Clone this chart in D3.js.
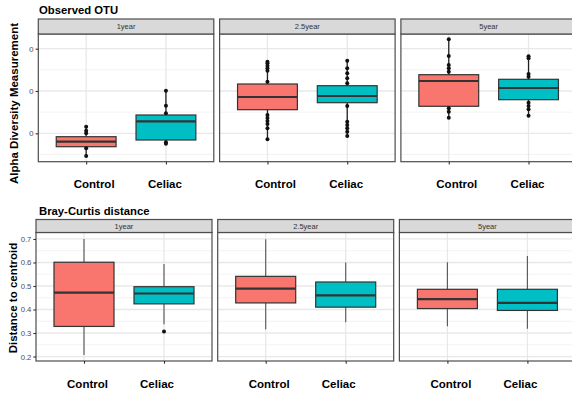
<!DOCTYPE html>
<html>
<head>
<meta charset="utf-8">
<script src="https://cdn.jsdelivr.net/npm/d3@7"></script>
<style>
  html, body { margin: 0; padding: 0; background: #ffffff; }
  svg { display: block; }
  text { font-family: "Liberation Sans", Arial, sans-serif; }
</style>
</head>
<body>
<script>
// ---------------- DATA ----------------
const categories = ["Control", "Celiac"];
const periods = ["1year", "2.5year", "5year"];
const groupColors = ["#F8766D", "#00BFC4"];

// Observed OTU: [lower whisker, q1, median, q3, upper whisker] per period, per category
const otuStats = [
  [[92.7, 136.6, 160.3, 183.9, 231.2], [151, 168.3, 256.7, 286.5, 401.4]],
  [[171.6, 311.6, 371.6, 433.1, 538.5], [187.2, 344.7, 376.4, 425, 543.3]],
  [[273.8, 327.7, 447.3, 477.1, 644.4], [283.2, 358.9, 414.2, 455.3, 564]]
];
// Observed OTU: individual points drawn on the whiskers
const otuPoints = [
  [[231.2, 212.2, 200, 129, 92.7], [401.4, 330.5, 294.6, 158, 151]],
  [[538.5, 531, 519.6, 507.3, 496, 444, 286.5, 272.3, 258.2, 244, 223.6, 171.6],
   [543.3, 507.3, 483.7, 460, 436.4, 329.1, 254.8, 239.2, 223.6, 207.6, 187.2]],
  [[644.4, 565.5, 522.9, 507.3, 491.3, 318.2, 302.1, 273.8],
   [564, 555, 480.4, 467.6, 344.7, 329.1, 313.5, 283.2]]
];
const otuTicks = [200, 400, 600];
const otuMinorTicks = [100, 300, 500];

// Bray-Curtis distance to centroid
const brayStats = [
  [[0.207, 0.328, 0.472, 0.601, 0.700], [0.337, 0.424, 0.468, 0.497, 0.594]],
  [[0.316, 0.428, 0.489, 0.541, 0.699], [0.346, 0.410, 0.460, 0.517, 0.600]],
  [[0.329, 0.404, 0.444, 0.486, 0.601], [0.318, 0.396, 0.428, 0.486, 0.628]]
];
const brayPoints = [
  [[], [0.306]],
  [[], []],
  [[], []]
];
const brayTicks = [0.2, 0.3, 0.4, 0.5, 0.6, 0.7];
const brayMinorTicks = [0.25, 0.35, 0.45, 0.55, 0.65];

// ---------------- DRAW ----------------
const W = 572, H = 397;
const svg = d3.select("body").append("svg").attr("width", W).attr("height", H);

svg.append("defs").append("clipPath").attr("id", "ylabClip")
  .attr("clipPathUnits", "userSpaceOnUse")
  .append("rect").attr("x", 29).attr("y", 0).attr("width", 20).attr("height", 200);

function drawRow(o) {
  const g = svg.append("g");
  const y = d3.scaleLinear().domain(o.domain).range([o.panelBottom, o.panelTop]);

  periods.forEach((p, i) => {
    const x0 = o.left + i * (o.width + o.gap);
    const x = d3.scalePoint().domain(categories).range([x0, x0 + o.width]).padding(0.6);
    const bw = x.step() * 0.75;
    const pg = g.append("g");

    pg.append("rect").attr("x", x0).attr("y", o.panelTop)
      .attr("width", o.width).attr("height", o.panelBottom - o.panelTop)
      .attr("fill", "#ffffff");

    pg.selectAll(".minor").data(o.minor).enter().append("line")
      .attr("x1", x0).attr("x2", x0 + o.width)
      .attr("y1", d => y(d)).attr("y2", d => y(d))
      .attr("stroke", "#f0f0f0").attr("stroke-width", 0.8);
    pg.selectAll(".major").data(o.ticks).enter().append("line")
      .attr("x1", x0).attr("x2", x0 + o.width)
      .attr("y1", d => y(d)).attr("y2", d => y(d))
      .attr("stroke", "#e8e8e8").attr("stroke-width", 1.3);
    pg.selectAll(".vmajor").data(categories).enter().append("line")
      .attr("x1", d => x(d)).attr("x2", d => x(d))
      .attr("y1", o.panelTop).attr("y2", o.panelBottom)
      .attr("stroke", "#e8e8e8").attr("stroke-width", 1.3);

    categories.forEach((c, j) => {
      const s = o.stats[i][j];
      const cx = x(c);
      pg.append("line").attr("x1", cx).attr("x2", cx)
        .attr("y1", y(s[4])).attr("y2", y(s[3]))
        .attr("stroke", o.whiskerColor).attr("stroke-width", o.whiskerWidth);
      pg.append("line").attr("x1", cx).attr("x2", cx)
        .attr("y1", y(s[1])).attr("y2", y(s[0]))
        .attr("stroke", o.whiskerColor).attr("stroke-width", o.whiskerWidth);
      pg.append("rect").attr("x", cx - bw / 2).attr("y", y(s[3]))
        .attr("width", bw).attr("height", y(s[1]) - y(s[3]))
        .attr("fill", groupColors[j]).attr("stroke", "#333333").attr("stroke-width", 1.2);
      pg.append("line").attr("x1", cx - bw / 2).attr("x2", cx + bw / 2)
        .attr("y1", y(s[2])).attr("y2", y(s[2]))
        .attr("stroke", "#333333").attr("stroke-width", 2.2);
      pg.selectAll(".pt" + j).data(o.points[i][j]).enter().append("circle")
        .attr("cx", cx).attr("cy", d => y(d)).attr("r", 2)
        .attr("fill", "#111111");
    });

    pg.append("rect").attr("x", x0).attr("y", o.panelTop)
      .attr("width", o.width).attr("height", o.panelBottom - o.panelTop)
      .attr("fill", "none").attr("stroke", "#4d4d4d").attr("stroke-width", 1.2);

    pg.append("rect").attr("x", x0).attr("y", o.stripTop)
      .attr("width", o.width).attr("height", o.panelTop - o.stripTop)
      .attr("fill", "#d9d9d9").attr("stroke", "#4d4d4d").attr("stroke-width", 1.2);
    pg.append("text").attr("x", x0 + o.width / 2).attr("y", (o.stripTop + o.panelTop) / 2)
      .attr("text-anchor", "middle").attr("dominant-baseline", "central")
      .attr("font-size", 7.5).attr("fill", "#333333").text(p);

    const xa = pg.append("g").attr("transform", `translate(0,${o.panelBottom})`)
      .call(d3.axisBottom(x).tickSize(2.7).tickFormat(""));
    xa.select(".domain").remove();
    xa.selectAll(".tick line").attr("stroke", "#333333").attr("stroke-width", 1.1);

    categories.forEach((c, j) => {
      pg.append("text").attr("x", x(c) + o.labelShift[j]).attr("y", o.labelBaseline)
        .attr("text-anchor", "middle").attr("font-size", 11.5).attr("font-weight", "bold")
        .attr("fill", "#000000").text(c);
    });

    if (i === 0) {
      const wrap = pg.append("g");
      if (o.clip) wrap.attr("clip-path", "url(#ylabClip)");
      const ya = wrap.append("g").attr("transform", `translate(${x0},0)`)
        .call(d3.axisLeft(y).tickValues(o.ticks).tickSize(2.7).tickPadding(2).tickFormat(o.fmt));
      ya.select(".domain").remove();
      ya.selectAll(".tick line").attr("stroke", "#333333").attr("stroke-width", 1.1);
      ya.selectAll(".tick text").attr("font-size", 7.7).attr("fill", "#4d4d4d")
        .attr("font-family", "Liberation Sans, Arial, sans-serif");
    }
  });

  g.append("text").attr("x", 39).attr("y", o.titleBaseline)
    .attr("font-size", 11.3).attr("font-weight", "bold").attr("fill", "#000").text(o.title);
  g.append("text")
    .attr("transform", `translate(${o.ytitleX},${o.ytitleY}) rotate(-90)`)
    .attr("text-anchor", "middle").attr("font-size", 11.5).attr("font-weight", "bold")
    .attr("fill", "#000").text(o.ytitle);
}

drawRow({
  domain: [65.7, 669.5], ticks: otuTicks, minor: otuMinorTicks, fmt: d3.format("d"),
  stats: otuStats, points: otuPoints,
  left: 38.3, width: 175.5, gap: 5.8,
  stripTop: 19, panelTop: 34, panelBottom: 161.7,
  whiskerColor: "#222222", whiskerWidth: 1.3,
  labelBaseline: 188.3, labelShift: [8, -1],
  title: "Observed OTU", titleBaseline: 14,
  ytitle: "Alpha Diversity Measurement", ytitleX: 17.5, ytitleY: 103.5,
  clip: true
});

drawRow({
  domain: [0.181, 0.7275], ticks: brayTicks, minor: brayMinorTicks, fmt: d3.format(".1f"),
  stats: brayStats, points: brayPoints,
  left: 36, width: 176, gap: 5.7,
  stripTop: 219.5, panelTop: 232.5, panelBottom: 361,
  whiskerColor: "#555555", whiskerWidth: 1.1,
  labelBaseline: 388, labelShift: [3.5, -7],
  title: "Bray-Curtis distance", titleBaseline: 215,
  ytitle: "Distance to centroid", ytitleX: 17, ytitleY: 298,
  clip: false
});
</script>
</body>
</html>
